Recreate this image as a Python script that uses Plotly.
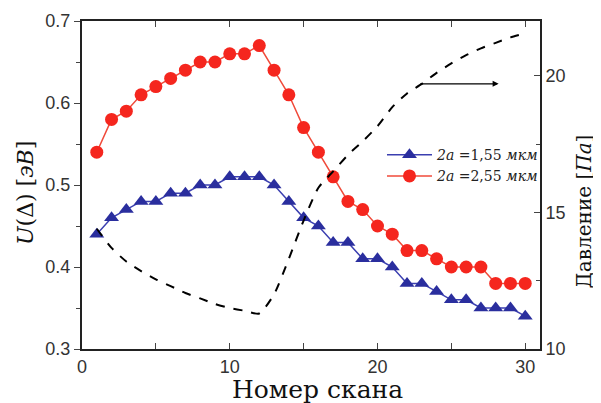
import plotly.graph_objects as go

scan = list(range(1, 31))
u_155 = [0.44, 0.46, 0.47, 0.48, 0.48, 0.49, 0.49, 0.50, 0.50, 0.51,
         0.51, 0.51, 0.50, 0.48, 0.46, 0.45, 0.43, 0.43, 0.41, 0.41,
         0.40, 0.38, 0.38, 0.37, 0.36, 0.36, 0.35, 0.35, 0.35, 0.34]
u_255 = [0.54, 0.58, 0.59, 0.61, 0.62, 0.63, 0.64, 0.65, 0.65, 0.66,
         0.66, 0.67, 0.64, 0.61, 0.57, 0.54, 0.51, 0.48, 0.47, 0.45,
         0.44, 0.42, 0.42, 0.41, 0.40, 0.40, 0.40, 0.38, 0.38, 0.38]
pressure = [14.4, 13.7, 13.2, 12.85, 12.55, 12.3, 12.05, 11.85, 11.65, 11.5,
            11.4, 11.3, 12.0, 13.3, 14.7, 15.9, 16.5, 17.1, 17.6, 18.15,
            18.85, 19.35, 19.7, 20.1, 20.45, 20.75, 21.0, 21.2, 21.4, 21.55]

serif = "DejaVu Serif"
sans = "Liberation Sans"
axcol = "#222"

fig = go.Figure()
fig.add_trace(go.Scatter(
    x=scan, y=u_155, mode="lines+markers",
    name="<i>2a</i> =1,55 <i>мкм</i>",
    line=dict(color="#3b3fb0", width=1.5),
    marker=dict(symbol="triangle-up", size=13, color="#2a2e9e"),
))
fig.add_trace(go.Scatter(
    x=scan, y=u_255, mode="lines+markers",
    name="<i>2a</i> =2,55 <i>мкм</i>",
    line=dict(color="#f04a3a", width=1.5),
    marker=dict(symbol="circle", size=13, color="#f5261e"),
))
fig.add_trace(go.Scatter(
    x=scan, y=pressure, mode="lines", yaxis="y2", showlegend=False,
    line=dict(color="black", width=2, dash="dash", shape="spline", smoothing=0.6),
))

fig.add_annotation(
    x=28.2, y=19.7, ax=22.8, ay=19.7, xref="x", yref="y2", axref="x", ayref="y2",
    showarrow=True, arrowhead=2, arrowsize=1, arrowwidth=1.2, arrowcolor="black", text="",
)

# axis titles
fig.add_annotation(text="Номер скана", xref="paper", yref="paper", x=0.515, y=-0.123,
                   xanchor="center", yanchor="middle",
                   showarrow=False, font=dict(family=serif, size=25, color="#111"))
fig.add_annotation(text="<i>U</i>(Δ) [<i>эB</i>]", xref="paper", yref="paper", x=-0.1245, y=0.4756,
                   xanchor="center", yanchor="middle",
                   textangle=-90, showarrow=False, font=dict(family=serif, size=22, color="#111"))
fig.add_annotation(text="Давление [<i>Па</i>]", xref="paper", yref="paper", x=1.097, y=0.4207,
                   xanchor="center", yanchor="middle",
                   textangle=-90, showarrow=False, font=dict(family=serif, size=20, color="#111"))

fig.update_layout(
    width=593, height=395,
    margin=dict(l=74, r=61, t=13, b=54),
    plot_bgcolor="white", paper_bgcolor="white",
    showlegend=True,
    legend=dict(
        x=0.655, y=0.64, xanchor="left", yanchor="top",
        bgcolor="rgba(0,0,0,0)", font=dict(family=serif, size=14, color="#222"),
        tracegroupgap=0, itemwidth=45,
    ),
    xaxis=dict(
        range=[0, 31], tickvals=[0, 10, 20, 30], ticks="inside", ticklen=6,
        minor=dict(tickvals=[5, 15, 25], ticks="inside", ticklen=6),
        showline=True, linecolor=axcol, linewidth=2, mirror="ticks",
        showgrid=False, zeroline=False, automargin=False,
        tickfont=dict(family=sans, size=18, color="#333"),
    ),
    yaxis=dict(
        range=[0.3, 0.7], tickvals=[0.3, 0.4, 0.5, 0.6, 0.7], ticktext=["0.3", "0.4", "0.5", "0.6", "0.7"],
        ticks="outside", ticklen=6,
        minor=dict(tickvals=[0.35, 0.45, 0.55, 0.65], ticks="outside", ticklen=4),
        showline=True, linecolor=axcol, linewidth=2,
        showgrid=False, zeroline=False, automargin=False,
        tickfont=dict(family=sans, size=18, color="#333"),
    ),
    yaxis2=dict(
        overlaying="y", side="right", range=[10, 22],
        tickvals=[10, 15, 20], ticks="inside", ticklen=6,
        minor=dict(tickvals=[12.5, 17.5], ticks="inside", ticklen=4),
        showline=True, linecolor=axcol, linewidth=2,
        showgrid=False, zeroline=False, automargin=False,
        tickfont=dict(family=sans, size=18, color="#333"),
    ),
)

fig.write_html("out.html")
